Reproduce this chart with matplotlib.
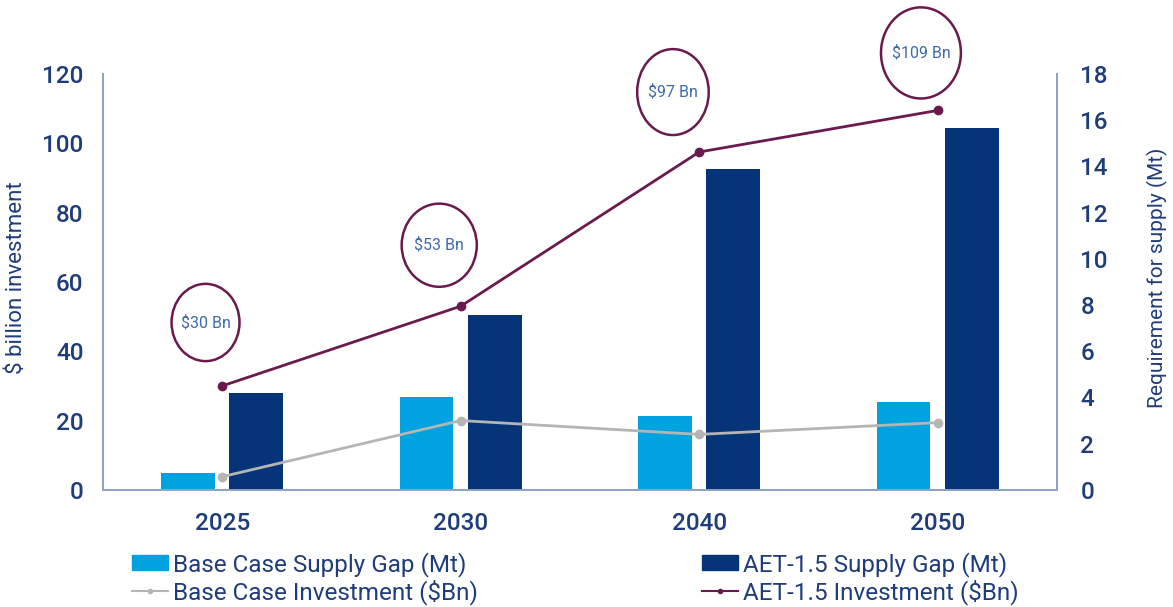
import numpy as np
import matplotlib
matplotlib.use("Agg")
from matplotlib import pyplot as plt
from matplotlib.patches import Ellipse, Patch
from matplotlib.lines import Line2D

years = ["2025", "2030", "2040", "2050"]
base_gap = [0.74, 4.0, 3.2, 3.82]          # Mt, right axis
aet_gap = [4.2, 7.55, 13.9, 15.65]         # Mt, right axis
base_inv = [3.8, 20.0, 16.0, 19.4]         # $Bn, left axis
aet_inv = [30.0, 53.0, 97.5, 109.5]        # $Bn, left axis
callouts = ["$30 Bn", "$53 Bn", "$97 Bn", "$109 Bn"]
callout_y = [48.3, 70.6, 114.8, 126.1]

light_blue = "#00a3e0"
navy = "#063478"
grey = "#b5b5b5"
plum = "#6b1a4e"
txt = "#1f3d7a"
spine_c = "#8fa3c8"

plt.rcParams['font.family'] = ['Roboto', 'DejaVu Sans']

fig = plt.figure(figsize=(11.73, 6.07), dpi=100)
ax = fig.add_axes([0.0878, 0.193, 0.8132, 0.685])
ax2 = ax.twinx()
ax.set_zorder(ax2.get_zorder() + 1)
ax.patch.set_visible(False)

x = np.arange(len(years))
w = 0.225
ax2.bar(x - 0.143, base_gap, w, color=light_blue)
ax2.bar(x + 0.143, aet_gap, w, color=navy)

ax.plot(x, base_inv, color=grey, lw=2, marker="o", ms=6)
ax.plot(x, aet_inv, color=plum, lw=2, marker="o", ms=6)

offs = [-0.07, -0.09, -0.11, -0.07]
sizes = [(0.285, 22.3), (0.315, 24.0), (0.30, 24.8), (0.335, 26.3)]
for i, (lab, yy) in enumerate(zip(callouts, callout_y)):
    cx = x[i] + offs[i]
    ew, eh = sizes[i]
    ax.add_patch(Ellipse((cx, yy), ew, eh, fill=False, ec=plum, lw=1.8,
                         clip_on=False))
    ax.text(cx, yy, lab, ha="center", va="center", fontsize=11.5,
            color="#3d6aa8", clip_on=False)

ax.set_xlim(-0.5, 3.5)
ax.set_ylim(0, 120)
ax2.set_ylim(0, 18)
ax.set_yticks(np.arange(0, 121, 20))
ax2.set_yticks(np.arange(0, 19, 2))
ax.set_xticks(x)
ax.set_xticklabels(years)

for a in (ax, ax2):
    a.spines["top"].set_visible(False)
    for s in ("left", "right", "bottom"):
        a.spines[s].set_color(spine_c)
        a.spines[s].set_linewidth(1.3)
    a.tick_params(length=0, labelsize=17.5, colors=txt)
    for lab in a.get_xticklabels() + a.get_yticklabels():
        lab.set_fontweight("medium")
ax.tick_params(axis="y", pad=14)
ax.tick_params(axis="x", pad=16)
ax2.tick_params(axis="y", pad=17)

ax.set_ylabel("$ billion investment", fontsize=16, color=txt)
ax.yaxis.set_label_coords(-0.08, 0.51)
ax2.set_ylabel("Requirement for supply (Mt)", fontsize=15, color=txt)
ax2.yaxis.set_label_coords(1.094, 0.51)

handles = [
    Patch(color=light_blue, label="Base Case Supply Gap (Mt)"),
    Line2D([], [], color=grey, lw=1.5, marker="o", ms=3,
           label="Base Case Investment ($Bn)"),
    Patch(color=navy, label="AET-1.5 Supply Gap (Mt)"),
    Line2D([], [], color=plum, lw=1.5, marker="o", ms=3,
           label="AET-1.5 Investment ($Bn)"),
]
leg = fig.legend(handles=handles, ncol=2, loc="upper left",
                 bbox_to_anchor=(0.104, 0.107), frameon=False,
                 fontsize=17.5, handlelength=1.5, handleheight=0.55,
                 handletextpad=0.2, columnspacing=9.2, labelspacing=0.1,
                 borderaxespad=0)
for t in leg.get_texts():
    t.set_color(txt)

fig.savefig("out.png", dpi=100)
